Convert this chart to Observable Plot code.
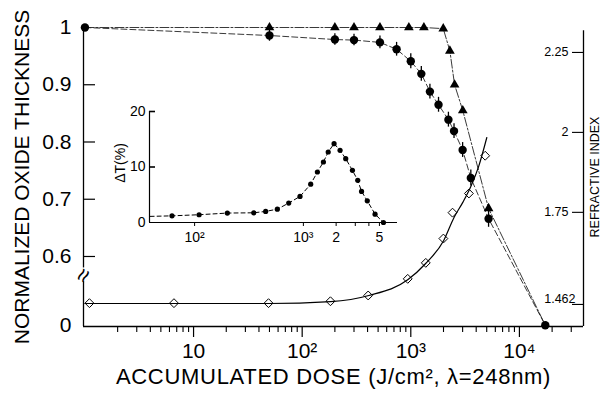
<!DOCTYPE html>
<html><head><meta charset="utf-8">
<script src="https://cdn.jsdelivr.net/npm/d3@7"></script>
<script src="https://cdn.jsdelivr.net/npm/@observablehq/plot@0.6"></script>
<style>
body{margin:0;background:#fff}
#wrap{position:relative;width:602px;height:395px;background:#fff}
</style></head><body><div id="wrap"></div>
<script>
// ---------- data ----------
// normalized oxide thickness, filled circles (dashed line)
const circleDose = [1, 50, 200, 300, 520, 740, 1000, 1250, 1500, 1800, 2220, 2500, 3000, 3570, 5200, 17300];
const circleTh   = [1, 0.986, 0.979, 0.978, 0.974, 0.962, 0.941, 0.919, 0.888, 0.865, 0.839, 0.819, 0.786, 0.737, 0.666, 0];
const circleErr  = [0, 0.01, 0.01, 0.01, 0.011, 0.012, 0.013, 0.013, 0.013, 0.013, 0.013, 0.013, 0.013, 0.014, 0.015, 0];
// normalized oxide thickness, filled triangles (dash-dot line)
const triDose = [50, 200, 300, 520, 960, 1320, 1990, 2290, 2530, 3010, 5200];
const triTh   = [1, 1, 1, 1, 1, 1, 0.998, 0.959, 0.9, 0.855, 0.684];
// refractive index, open diamonds
const diaDose = [1.1, 6.6, 49, 182, 405, 937, 1374, 1995, 2422, 3428, 4840];
const diaN    = [1.466, 1.466, 1.466, 1.472, 1.490, 1.542, 1.592, 1.668, 1.749, 1.809, 1.927];
// refractive index, solid fitted curve
const fitDose = [1, 6.5, 49, 183, 411, 937, 1370, 2010, 2500, 3020, 3570, 4210, 5010];
const fitN    = [1.465, 1.465, 1.465, 1.471, 1.490, 1.539, 1.590, 1.662, 1.734, 1.782, 1.831, 1.893, 1.984];
// inset: ΔT (%)
const dtDose = [62, 110, 200, 350, 450, 576, 733, 931, 1167, 1345, 1528, 1691, 1914, 2173, 2450, 2824, 3160, 3425, 3867, 4560, 5445];
const dtVal  = [1.2, 1.4, 1.7, 1.75, 2.0, 2.4, 3.5, 4.7, 6.9, 9.1, 10.9, 12.7, 14.2, 13.0, 11.5, 9.4, 7.6, 5.6, 3.9, 1.5, 0];
const dtLeadDose = 39, dtLeadVal = 1.1;

// ticks and labels
const xMajor = [10, 100, 1000, 10000];
const xMajorLabels = ["10", "10²", "10³", "10⁴"];
const thTicks = [0, 0.6, 0.7, 0.8, 0.9, 1];
const thLabels = ["0", "0.6", "0.7", "0.8", "0.9", "1"];
const nTicks = [1.462, 1.75, 2, 2.25];
const nLabels = ["1.462", "1.75", "2", "2.25"];
const dtTicks = [0, 10, 20];
const dtLabels = ["0", "10", "20"];
const dtXTicks = [100, 1000, 2000, 3000, 4000, 5000];
const dtXLabels = ["10²", "10³", "2", "", "", "5"];
const yTitle = "NORMALIZED OXIDE THICKNESS";
const xTitle = "ACCUMULATED DOSE (J/cm², λ=248nm)";
const rTitle = "REFRACTIVE INDEX";
const dtTitle = "ΔT(%)";

// ---------- scales / layout ----------
const W = 602, H = 395;
const xDomain = [0.97, 38900];
const thDomain = [0.4777, 1];
const nDomain = [1.393, 2.328];
const nAxisTop = 2.318;
const brk = v => v >= 0.6 ? v : 0.6 - (0.6 - v) * 0.2;   // broken axis below 0.6
const axisGap = [0.38, 0.50];
const breakAt = 0.434;
const dtXDomain = [38.5, 7330];
const dtYDomain = [0, 20];

const minorTicks = [];
for (const dec of [1, 10, 100, 1000, 10000]) for (let m = 2; m <= 9; m++) {
  const v = dec * m; if (v < xDomain[1]) minorTicks.push(v);
}

const circles = circleDose.map((d, i) => ({dose: d, th: circleTh[i], err: circleErr[i]}));
const tris = triDose.map((d, i) => ({dose: d, th: triTh[i]}));
const triLine = [circles[0], ...tris, circles[circles.length - 1]];
const dias = diaDose.map((d, i) => ({dose: d, n: diaN[i]}));
const fit = fitDose.map((d, i) => ({dose: d, n: fitN[i]}));
const dts = dtDose.map((d, i) => ({dose: d, v: dtVal[i]}));
const dtLine = [{dose: dtLeadDose, v: dtLeadVal}, ...dts];

const base = "position:absolute;left:0;top:0;background:transparent;font-family:'Liberation Sans',Arial,sans-serif;overflow:visible;";
const mainM = {width: W, height: H, marginLeft: 83, marginRight: 19, marginTop: 27, marginBottom: 69};
const frameW = W - mainM.marginLeft - mainM.marginRight;

const A = Plot.plot({
  ...mainM, style: base,
  x: {type: "log", domain: xDomain, axis: null},
  y: {domain: thDomain, axis: null},
  marks: [
    Plot.ruleY([thDomain[0]], {strokeWidth: 1.3}),
    Plot.ruleX([{a: thDomain[0], b: brk(axisGap[0])}, {a: brk(axisGap[1]), b: 1}], {x: () => xDomain[0], y1: "a", y2: "b", strokeWidth: 1.3}),
    Plot.text(["≈"], {x: xDomain[0], y: brk(breakAt), text: d => d, rotate: -62, fontSize: 24}),
    Plot.tickY(thTicks.slice(1, 5), {y: d => brk(d), insetRight: frameW - 12, strokeWidth: 1.2}),
    Plot.text(thTicks, {y: d => brk(d), text: (d, i) => thLabels[i], frameAnchor: "left", dx: -12, textAnchor: "end", fontSize: 21}),
    Plot.axisX(minorTicks, {tickSize: 6, tickFormat: () => "", label: null, strokeWidth: 1.1}),
    Plot.axisX(xMajor, {tickSize: 11, tickFormat: () => "", label: null, strokeWidth: 1.2}),
    Plot.text(xMajor, {x: d => d, text: (d, i) => xMajorLabels[i], frameAnchor: "bottom", lineAnchor: "top", dy: 17, textAnchor: "middle", fontSize: 21}),
    Plot.text([yTitle], {frameAnchor: "left", dx: -61, rotate: -90, text: d => d, textAnchor: "middle", fontSize: 21}),
    Plot.text([xTitle], {frameAnchor: "bottom", dy: 57, text: d => d, textAnchor: "middle", fontSize: 22}),
    Plot.line(circles, {x: "dose", y: d => brk(d.th), stroke: "#222", strokeWidth: 0.9, strokeDasharray: "6,3"}),
    Plot.line(triLine, {x: "dose", y: d => brk(d.th), stroke: "#222", strokeWidth: 0.9, strokeDasharray: "9,2,2,2"}),
    Plot.ruleX(circles.filter(d => d.err > 0), {x: "dose", y1: d => brk(d.th - d.err), y2: d => brk(d.th + d.err), strokeWidth: 1.3}),
    Plot.dot(circles, {x: "dose", y: d => brk(d.th), r: 4.2, fill: "black"}),
    Plot.dot(tris, {x: "dose", y: d => brk(d.th), symbol: "triangle", r: 3.6, fill: "black"})
  ]
});

const B = Plot.plot({
  ...mainM, style: base,
  x: {type: "log", domain: xDomain, axis: null},
  y: {domain: nDomain, axis: null},
  marks: [
    Plot.ruleX([0], {x: xDomain[1], y1: nDomain[0], y2: nAxisTop, strokeWidth: 1.3}),
    Plot.tickY(nTicks, {y: d => d, insetLeft: frameW - 11, strokeWidth: 1.1}),
    Plot.text(nTicks.slice(1), {y: d => d, text: (d, i) => nLabels[i + 1], frameAnchor: "right", dx: -15, textAnchor: "end", fontSize: 12.5}),
    Plot.text([nTicks[0]], {y: d => d, text: () => nLabels[0], frameAnchor: "right", dx: -8, dy: -5, textAnchor: "end", fontSize: 12.5}),
    Plot.text([rTitle], {frameAnchor: "right", dx: 11, rotate: -90, text: d => d, textAnchor: "middle", fontSize: 12.5}),
    Plot.line(fit, {x: "dose", y: "n", curve: "monotone-x", strokeWidth: 1.2}),
    Plot.dot(dias, {x: "dose", y: "n", symbol: "diamond2", r: 4, stroke: "black", fill: "none", strokeWidth: 1})
  ]
});

const insetM = {width: W, height: H, marginLeft: 149, marginRight: 205, marginTop: 111, marginBottom: 173};
const insetW = W - insetM.marginLeft - insetM.marginRight;
const C = Plot.plot({
  ...insetM, style: base,
  x: {type: "log", domain: dtXDomain, axis: null},
  y: {domain: dtYDomain, axis: null},
  marks: [
    Plot.ruleY([0], {strokeWidth: 1.2}),
    Plot.ruleX([0], {x: dtXDomain[0], y1: dtYDomain[0], y2: dtYDomain[1], strokeWidth: 1.2}),
    Plot.tickY([10, 20], {y: d => d, insetRight: insetW - 6, strokeWidth: 1.6}),
    Plot.text(dtTicks, {y: d => d, text: (d, i) => dtLabels[i], frameAnchor: "left", dx: -4, textAnchor: "end", fontSize: 14}),
    Plot.axisX(dtXTicks, {tickSize: 4, tickFormat: () => "", label: null}),
    Plot.text(dtXTicks, {x: d => d, text: (d, i) => dtXLabels[i], frameAnchor: "bottom", lineAnchor: "top", dy: 10, textAnchor: "middle", fontSize: 14}),
    Plot.text([dtTitle], {frameAnchor: "left", dx: -29, dy: -4, rotate: -90, text: d => d, textAnchor: "middle", fontSize: 14}),
    Plot.line(dtLine, {x: "dose", y: "v", strokeWidth: 1, strokeDasharray: "4,3"}),
    Plot.dot(dts, {x: "dose", y: "v", r: 2.6, fill: "black"})
  ]
});

const wrap = document.getElementById("wrap");
wrap.append(A, B, C);
const spaced = (svg, str, px) => d3.select(svg).selectAll("text")
  .filter(function () { return this.textContent === str; })
  .style("letter-spacing", px + "px");
spaced(A, xTitle, 0.7);
</script>
</body></html>
